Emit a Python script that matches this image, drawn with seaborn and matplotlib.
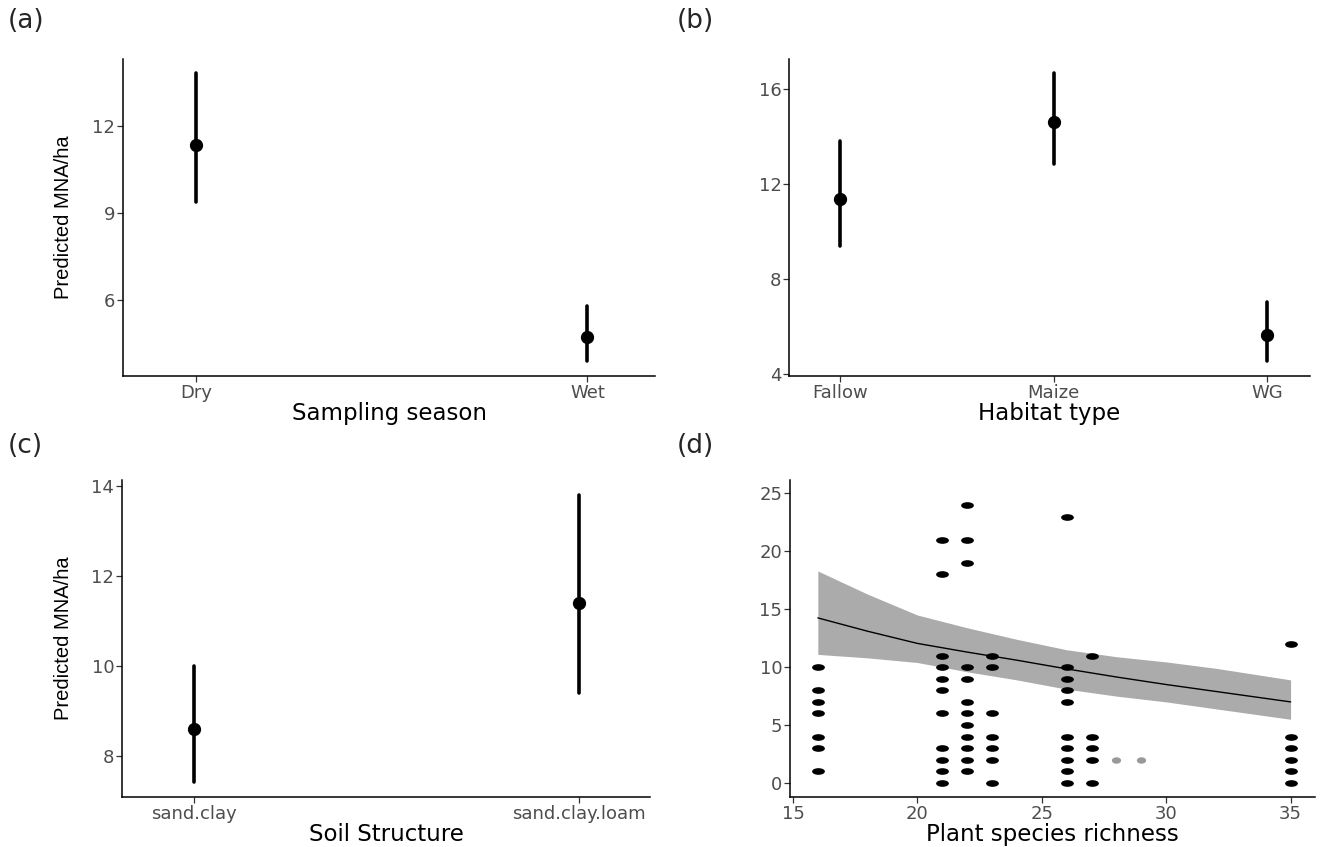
"""
Predicted MNA/ha effect plots (four panels)
"""

import numpy as np
import pandas as pd
import matplotlib
matplotlib.use('Agg')
import matplotlib.pyplot as plt
from matplotlib.path import Path
import seaborn as sns

# (a) sampling season
season = ['Dry', 'Wet']
season_fit = [11.37, 4.74]
season_lo = [9.39, 3.90]
season_hi = [13.83, 5.79]

# (b) habitat type
habitat = ['Fallow', 'Maize', 'WG']
habitat_fit = [11.38, 14.62, 5.65]
habitat_lo = [9.40, 12.84, 4.56]
habitat_hi = [13.81, 16.66, 7.03]

# (c) soil structure
soil = ['sand.clay', 'sand.clay.loam']
soil_fit = [8.60, 11.39]
soil_lo = [7.42, 9.40]
soil_hi = [9.99, 13.80]

# (d) observed MNA/ha by plant species richness
y_at_16 = [10, 8, 7, 6, 4, 3, 1]
y_at_21 = [21, 18, 11, 10, 9, 8, 6, 3, 2, 1, 0]
y_at_22 = [24, 21, 19, 10, 9, 7, 6, 5, 4, 3, 2, 1]
y_at_23 = [11, 10, 6, 4, 3, 2, 0]
y_at_26 = [23, 10, 9, 8, 7, 4, 3, 2, 1, 0]
y_at_27 = [11, 4, 3, 2, 0]
y_at_35 = [12, 4, 3, 2, 1, 0]
single_x = [28, 29]
single_y = [2, 2]

# (d) fitted curve and confidence band
fit_x = [16, 18, 20, 22, 24, 26, 28, 30, 32, 35]
fit_y = [14.25, 13.1, 12.05, 11.3, 10.6, 9.85, 9.15, 8.5, 7.9, 7.0]
fit_lo = [11.1, 10.8, 10.4, 9.6, 8.9, 8.1, 7.5, 7.0, 6.4, 5.5]
fit_hi = [18.3, 16.3, 14.5, 13.4, 12.4, 11.5, 10.9, 10.45, 9.9, 8.9]

sns.set_style('ticks')
plt.rcParams['font.family'] = ['DejaVu Sans']

TICK_SIZE = 13
TITLE_SIZE = 16.5
YLAB_SIZE = 14.5
AX_H = 317  # axes height in px


def style_axes(ax, xlabel, ylabel):
    sns.despine(ax=ax)
    for side in ['left', 'bottom']:
        ax.spines[side].set_color('black')
        ax.spines[side].set_linewidth(1.1)
    ax.tick_params(length=4, width=0.9, color='#333333', labelcolor='#4D4D4D',
                   labelsize=TICK_SIZE, pad=1.5)
    ax.set_xlabel(xlabel, fontsize=TITLE_SIZE, color='black')
    ax.xaxis.label.set_va('baseline')
    # title baseline ~44 px under the axis line
    ax.xaxis.set_label_coords(0.5, -44 / AX_H)
    if ylabel:
        ax.set_ylabel(ylabel, fontsize=YLAB_SIZE, color='black',
                      family=['Liberation Sans', 'DejaVu Sans'])
        ax.yaxis.label.set_va('center')
        ax.yaxis.set_label_coords(-59 / 532, 0.5)
    else:
        ax.set_ylabel('')


def plot_effect(ax, cats, fit, lo, hi, xlabel, ylabel, xlim, ylim, yticks):
    # lo / fit / hi per level, median gives the estimate and min/max the interval
    df = pd.DataFrame({
        'cat': np.repeat(cats, 3),
        'val': np.ravel(np.column_stack([lo, fit, hi])),
    })
    sns.pointplot(data=df, x='cat', y='val', order=cats, estimator='median',
                  errorbar=lambda v: (v.min(), v.max()), linestyle='none',
                  color='black', markersize=7.5, err_kws={'linewidth': 2.6}, ax=ax)
    ax.set_xlim(xlim)
    ax.set_ylim(ylim)
    ax.set_yticks(yticks)
    style_axes(ax, xlabel, ylabel)


def ellipse_marker(ratio):
    circ = Path.unit_circle()
    return Path(circ.vertices * np.array([1.0, ratio]), circ.codes)


fig = plt.figure(figsize=(13.27, 8.47), dpi=100)

ax_a = fig.add_axes([0.0927, 0.556, 0.401, AX_H / 847])
ax_b = fig.add_axes([0.5946, 0.556, 0.3926, AX_H / 847])
ax_c = fig.add_axes([0.0919, 0.0590, 0.398, AX_H / 847])
ax_d = fig.add_axes([0.5953, 0.0590, 0.396, AX_H / 847])

plot_effect(ax_a, season, season_fit, season_lo, season_hi,
            'Sampling season', 'Predicted MNA/ha',
            (-0.186, 1.173), (3.39, 14.32), [6, 9, 12])
plot_effect(ax_b, habitat, habitat_fit, habitat_lo, habitat_hi,
            'Habitat type', '',
            (-0.24, 2.20), (3.93, 17.26), [4, 8, 12, 16])
plot_effect(ax_c, soil, soil_fit, soil_lo, soil_hi,
            'Soil Structure', 'Predicted MNA/ha',
            (-0.188, 1.185), (7.09, 14.13), [8, 10, 12, 14])

# (d) raw observations + model prediction
obs_x = ([16] * len(y_at_16) + [21] * len(y_at_21) + [22] * len(y_at_22)
         + [23] * len(y_at_23) + [26] * len(y_at_26) + [27] * len(y_at_27)
         + [35] * len(y_at_35))
obs_y = y_at_16 + y_at_21 + y_at_22 + y_at_23 + y_at_26 + y_at_27 + y_at_35

ax_d.fill_between(fit_x, fit_lo, fit_hi, color='#ABABAB', linewidth=0, zorder=1)
sns.lineplot(x=fit_x, y=fit_y, color='black', linewidth=1.0, ax=ax_d, zorder=2)
sns.scatterplot(x=obs_x, y=obs_y, marker=ellipse_marker(0.52), s=85, color='black',
                linewidth=0, ax=ax_d, zorder=3)
sns.scatterplot(x=single_x, y=single_y, marker=ellipse_marker(0.7), s=44,
                color='#999999', linewidth=0, ax=ax_d, zorder=3)
ax_d.set_xlim(14.88, 36.0)
ax_d.set_ylim(-1.21, 26.15)
ax_d.set_xticks([15, 20, 25, 30, 35])
ax_d.set_yticks([0, 5, 10, 15, 20, 25])
style_axes(ax_d, 'Plant species richness', '')

for label, x, y in [('(a)', 0.006, 0.975), ('(b)', 0.51, 0.975),
                    ('(c)', 0.006, 0.473), ('(d)', 0.51, 0.473)]:
    fig.text(x, y, label, fontsize=19, ha='left', va='center')

fig.savefig('out.png', dpi=100)
plt.close(fig)
